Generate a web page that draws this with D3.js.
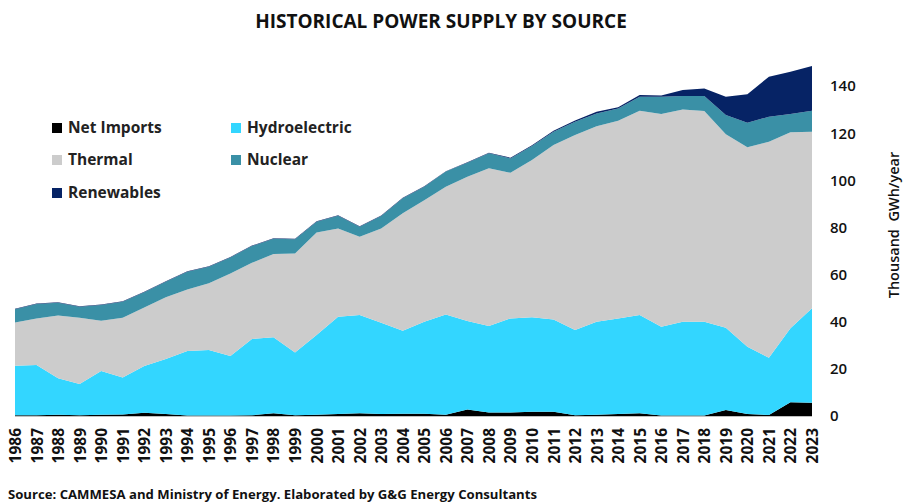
<!DOCTYPE html>
<html>
<head>
<meta charset="utf-8">
<script src="https://cdn.jsdelivr.net/npm/d3@7"></script>
<style>
  body { margin: 0; background: #fff; }
  text { font-family: "Open Sans", "DejaVu Sans", sans-serif; }
</style>
</head>
<body>
<div id="chart"></div>
<script>
// data (thousand GWh / year)
var years = [1986,1987,1988,1989,1990,1991,1992,1993,1994,1995,1996,1997,1998,1999,2000,2001,2002,2003,2004,2005,2006,2007,2008,2009,2010,2011,2012,2013,2014,2015,2016,2017,2018,2019,2020,2021,2022,2023];
var netImports = [0.3,0.3,0.5,0.3,0.5,0.6,1.4,0.8,0.2,0.2,0.2,0.3,1.2,0.3,0.5,0.8,1.2,0.8,1.0,1.0,0.5,2.8,1.5,1.5,1.8,1.8,0.3,0.5,0.8,1.2,0.2,0.2,0.2,2.5,0.8,0.4,5.8,5.6];
var hydro = [21.0,21.3,15.5,13.3,18.6,15.7,19.8,23.4,27.4,27.8,25.3,32.4,32.2,26.6,33.9,41.3,41.7,38.8,35.2,39.0,42.6,37.5,36.7,39.9,40.1,39.2,36.2,39.5,40.6,41.7,37.7,39.8,39.8,35.0,28.6,24.3,31.4,40.1];
var thermal = [18.4,19.8,26.6,28.1,21.3,25.4,24.8,26.2,26.1,28.3,35.0,32.3,35.3,42.1,43.5,37.5,33.2,40.0,49.8,51.6,54.2,61.2,66.9,61.8,66.7,74.0,82.7,83.0,83.9,86.6,90.2,90.1,89.4,82.1,84.6,91.7,83.2,74.9];
var nuclear = [5.6,6.1,5.5,4.7,6.7,6.8,6.5,6.6,7.5,7.0,6.8,7.1,6.5,6.0,4.5,5.4,4.2,5.3,6.4,5.7,6.4,6.0,6.4,6.1,6.0,5.6,5.7,5.4,5.2,6.0,7.4,5.7,6.4,8.1,10.4,10.6,7.7,8.9];
var renewables = [0.2,0.2,0.2,0.2,0.2,0.2,0.2,0.2,0.2,0.2,0.2,0.2,0.2,0.2,0.2,0.2,0.2,0.2,0.2,0.2,0.2,0.2,0.2,0.3,0.3,0.4,0.5,0.7,0.5,0.7,0.5,2.5,3.2,7.8,12.1,17.0,18.0,19.0];
var yTicks = [0,20,40,60,80,100,120,140];

var keys = ["Net Imports","Hydroelectric","Thermal","Nuclear","Renewables"];
var colors = {"Net Imports":"#000000","Hydroelectric":"#33d6ff","Thermal":"#cccccc","Nuclear":"#3a90a6","Renewables":"#062365"};

var width = 905, height = 502;

var svg = d3.select("#chart")
  .append("svg")
    .attr("width", width)
    .attr("height", height);

// build rows for the stack
var rows = years.map(function(y, i) {
  return {year: y, "Net Imports": netImports[i], "Hydroelectric": hydro[i],
          "Thermal": thermal[i], "Nuclear": nuclear[i], "Renewables": renewables[i]};
});

var x = d3.scalePoint()
  .domain(years)
  .range([15, 812]);

var y = d3.scaleLinear()
  .domain([0, 150])
  .range([416, 62.5]);

var stacked = d3.stack().keys(keys)(rows);

var area = d3.area()
  .x(function(d) { return x(d.data.year); })
  .y0(function(d) { return y(d[0]); })
  .y1(function(d) { return y(d[1]); });

svg.selectAll("path.layer")
  .data(stacked)
  .enter()
  .append("path")
    .attr("class", "layer")
    .attr("fill", function(d) { return colors[d.key]; })
    .attr("d", area);

// x axis line + rotated year labels
svg.append("line")
  .attr("x1", x(years[0])).attr("x2", x(years[years.length - 1]))
  .attr("y1", y(0) + 0.5).attr("y2", y(0) + 0.5)
  .attr("stroke", "#bfbfbf")
  .attr("stroke-width", 1);

svg.selectAll("text.year")
  .data(years)
  .enter()
  .append("text")
    .attr("class", "year")
    .attr("transform", function(d) { return "translate(" + (x(d) + 6) + ",428) rotate(-90)"; })
    .attr("text-anchor", "end")
    .attr("font-size", "15.5px")
    .attr("font-weight", 700)
    .attr("fill", "#111")
    .text(function(d) { return d; });

// y axis on the right, labels only
var yAxis = svg.append("g")
  .attr("transform", "translate(830,0)")
  .call(d3.axisRight(y).tickValues(yTicks).tickSize(0).tickPadding(0));
yAxis.select(".domain").remove();
yAxis.selectAll("text")
  .attr("font-family", "'Open Sans', sans-serif")
  .attr("font-size", "15px")
  .attr("font-weight", 600)
  .attr("fill", "#111");

svg.append("text")
  .attr("transform", "translate(899,225) rotate(-90)")
  .attr("text-anchor", "middle")
  .attr("font-size", "14.5px")
  .attr("font-weight", 600)
  .attr("fill", "#111")
  .attr("xml:space", "preserve")
  .style("white-space", "pre")
  .text("Thousand  GWh/year");

// title
svg.append("text")
  .attr("x", 441)
  .attr("y", 28)
  .attr("text-anchor", "middle")
  .attr("font-size", "19px")
  .attr("font-weight", 700)
  .attr("fill", "#111")
  .text("HISTORICAL POWER SUPPLY BY SOURCE");

// legend
var legendPos = [
  {key: "Net Imports", x: 52, y: 128},
  {key: "Hydroelectric", x: 231, y: 128},
  {key: "Thermal", x: 52, y: 160},
  {key: "Nuclear", x: 231, y: 160},
  {key: "Renewables", x: 52, y: 193}
];
var legend = svg.selectAll("g.legend")
  .data(legendPos)
  .enter()
  .append("g")
    .attr("class", "legend")
    .attr("transform", function(d) { return "translate(" + d.x + "," + d.y + ")"; });
legend.append("rect")
  .attr("x", 0).attr("y", -5)
  .attr("width", 10).attr("height", 10)
  .attr("fill", function(d) { return colors[d.key]; });
legend.append("text")
  .attr("x", 16)
  .attr("y", 0)
  .attr("dy", "0.35em")
  .attr("font-size", "15.5px")
  .attr("font-weight", 700)
  .attr("fill", "#222")
  .text(function(d) { return d.key; });

// source note
svg.append("text")
  .attr("x", 8)
  .attr("y", 499)
  .attr("font-size", "12px")
  .attr("font-weight", 700)
  .attr("fill", "#111")
  .attr("textLength", 529)
  .attr("lengthAdjust", "spacingAndGlyphs")
  .text("Source: CAMMESA and Ministry of Energy. Elaborated by G&G Energy Consultants");
</script>
</body>
</html>
